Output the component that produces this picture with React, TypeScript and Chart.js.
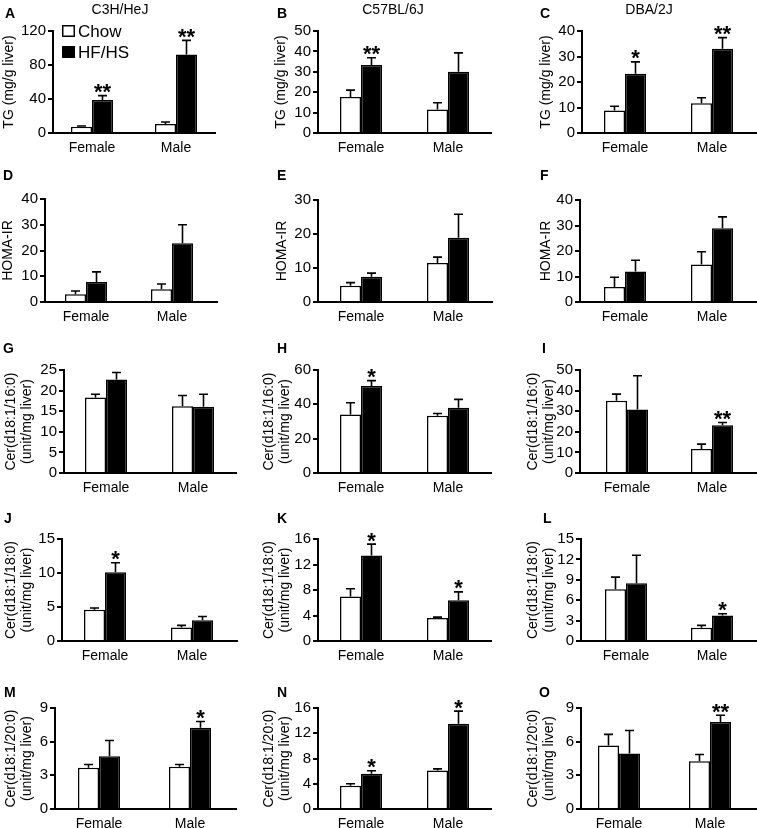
import React, { useEffect, useRef } from 'react';
import { Chart, registerables } from 'chart.js';

Chart.register(...registerables);

const FONT = '"Liberation Sans", Arial, Helvetica, sans-serif';

// ---------- data ----------
const categories = ['Female', 'Male'];
const groups = ['Chow', 'HF/HS'];
const strains = ['C3H/HeJ', 'C57BL/6J', 'DBA/2J'];

const tgTitle = ['TG (mg/g liver)'];
const homaTitle = ['HOMA-IR'];
const cer16Title = ['Cer(d18:1/16:0)', '(unit/mg liver)'];
const cer18Title = ['Cer(d18:1/18:0)', '(unit/mg liver)'];
const cer20Title = ['Cer(d18:1/20:0)', '(unit/mg liver)'];

// A  TG, C3H/HeJ
const A_chow = [7.5, 10.6];
const A_chowErr = [0.7, 2.4];
const A_hf = [38.8, 92.5];
const A_hfErr = [5.2, 16.5];
const A_stars = ['**', '**'];
const A_yTicks = [0, 40, 80, 120];
// B  TG, C57BL/6J
const B_chow = [17.7, 11.5];
const B_chowErr = [3.3, 3.3];
const B_hf = [33.3, 30.0];
const B_hfErr = [3.6, 9.3];
const B_stars = ['**', ''];
const B_yTicks = [0, 10, 20, 30, 40, 50];
// C  TG, DBA/2J
const C_chow = [8.8, 11.7];
const C_chowErr = [1.7, 2.1];
const C_hf = [23.2, 33.0];
const C_hfErr = [4.7, 4.4];
const C_stars = ['*', '**'];
const C_yTicks = [0, 10, 20, 30, 40];
// D  HOMA-IR, C3H/HeJ
const D_chow = [3.0, 5.0];
const D_chowErr = [1.3, 2.0];
const D_hf = [7.8, 22.8];
const D_hfErr = [3.9, 7.2];
const D_stars = ['', ''];
const D_yTicks = [0, 10, 20, 30, 40];
// E  HOMA-IR, C57BL/6J
const E_chow = [4.8, 11.5];
const E_chowErr = [0.9, 1.7];
const E_hf = [7.4, 18.9];
const E_hfErr = [1.1, 6.9];
const E_stars = ['', ''];
const E_yTicks = [0, 10, 20, 30];
// F  HOMA-IR, DBA/2J
const F_chow = [5.9, 14.7];
const F_chowErr = [3.8, 5.0];
const F_hf = [12.0, 28.9];
const F_hfErr = [4.4, 4.5];
const F_stars = ['', ''];
const F_yTicks = [0, 10, 20, 30, 40];
// G  Cer 16:0, C3H/HeJ
const G_chow = [18.3, 16.2];
const G_chowErr = [0.8, 2.6];
const G_hf = [22.7, 16.1];
const G_hfErr = [1.7, 3.0];
const G_stars = ['', ''];
const G_yTicks = [0, 5, 10, 15, 20, 25];
// H  Cer 16:0, C57BL/6J
const H_chow = [34.1, 33.3];
const H_chowErr = [6.8, 1.4];
const H_hf = [50.7, 38.0];
const H_hfErr = [3.1, 4.9];
const H_stars = ['*', ''];
const H_yTicks = [0, 20, 40, 60];
// I  Cer 16:0, DBA/2J
const I_chow = [35.1, 11.7];
const I_chowErr = [3.2, 2.3];
const I_hf = [30.8, 23.2];
const I_hfErr = [16.4, 1.3];
const I_stars = ['', '**'];
const I_yTicks = [0, 10, 20, 30, 40, 50];
// J  Cer 18:0, C3H/HeJ
const J_chow = [4.6, 2.0];
const J_chowErr = [0.25, 0.3];
const J_hf = [10.1, 3.05];
const J_hfErr = [1.4, 0.55];
const J_stars = ['*', ''];
const J_yTicks = [0, 5, 10, 15];
// K  Cer 18:0, C57BL/6J
const K_chow = [7.0, 3.6];
const K_chowErr = [1.2, 0.15];
const K_hf = [13.4, 6.4];
const K_hfErr = [1.8, 1.3];
const K_stars = ['*', '*'];
const K_yTicks = [0, 4, 8, 12, 16];
// L  Cer 18:0, DBA/2J
const L_chow = [7.6, 1.95];
const L_chowErr = [1.8, 0.35];
const L_hf = [8.5, 3.76];
const L_hfErr = [4.1, 0.24];
const L_stars = ['', '*'];
const L_yTicks = [0, 3, 6, 9, 12, 15];
// M  Cer 20:0, C3H/HeJ
const M_chow = [3.67, 3.76];
const M_chowErr = [0.3, 0.21];
const M_hf = [4.7, 7.25];
const M_hfErr = [1.4, 0.55];
const M_stars = ['', '*'];
const M_yTicks = [0, 3, 6, 9];
// N  Cer 20:0, C57BL/6J
const N_chow = [3.7, 6.1];
const N_chowErr = [0.3, 0.25];
const N_hf = [5.6, 13.5];
const N_hfErr = [0.45, 2.0];
const N_stars = ['*', '*'];
const N_yTicks = [0, 4, 8, 12, 16];
// O  Cer 20:0, DBA/2J
const O_chow = [5.65, 4.26];
const O_chowErr = [1.0, 0.6];
const O_hf = [4.94, 7.76];
const O_hfErr = [2.05, 0.6];
const O_stars = ['', '**'];
const O_yTicks = [0, 3, 6, 9];

// ---------- layout (page pixels) ----------
type Layout = { L: number; R: number; top: number; y0: number; c0: number; c1: number; tx: number; lx: number; ly: number };
type Spec = {
  letter: string; yTitle: string[]; chow: number[]; chowErr: number[]; hf: number[]; hfErr: number[];
  stars: string[]; yTicks: number[]; lay: Layout; legend?: boolean;
};

const specs: Spec[] = [
  { letter: 'A', yTitle: tgTitle, chow: A_chow, chowErr: A_chowErr, hf: A_hf, hfErr: A_hfErr, stars: A_stars, yTicks: A_yTicks, legend: true,
    lay: { L: 53, R: 215, top: 31, y0: 133, c0: 92, c1: 176, tx: 9, lx: 5, ly: 8 } },
  { letter: 'B', yTitle: tgTitle, chow: B_chow, chowErr: B_chowErr, hf: B_hf, hfErr: B_hfErr, stars: B_stars, yTicks: B_yTicks,
    lay: { L: 318, R: 491, top: 31, y0: 133, c0: 361, c1: 448, tx: 281, lx: 277, ly: 8 } },
  { letter: 'C', yTitle: tgTitle, chow: C_chow, chowErr: C_chowErr, hf: C_hf, hfErr: C_hfErr, stars: C_stars, yTicks: C_yTicks,
    lay: { L: 582, R: 756, top: 31, y0: 133, c0: 625, c1: 712, tx: 546, lx: 540, ly: 8 } },
  { letter: 'D', yTitle: homaTitle, chow: D_chow, chowErr: D_chowErr, hf: D_hf, hfErr: D_hfErr, stars: D_stars, yTicks: D_yTicks,
    lay: { L: 45, R: 217, top: 199, y0: 302, c0: 86, c1: 172, tx: 8, lx: 3, ly: 170 } },
  { letter: 'E', yTitle: homaTitle, chow: E_chow, chowErr: E_chowErr, hf: E_hf, hfErr: E_hfErr, stars: E_stars, yTicks: E_yTicks,
    lay: { L: 318, R: 492, top: 200, y0: 302, c0: 361, c1: 448, tx: 282, lx: 277, ly: 170 } },
  { letter: 'F', yTitle: homaTitle, chow: F_chow, chowErr: F_chowErr, hf: F_hf, hfErr: F_hfErr, stars: F_stars, yTicks: F_yTicks,
    lay: { L: 580, R: 756, top: 200, y0: 302, c0: 625, c1: 712, tx: 546, lx: 540, ly: 170 } },
  { letter: 'G', yTitle: cer16Title, chow: G_chow, chowErr: G_chowErr, hf: G_hf, hfErr: G_hfErr, stars: G_stars, yTicks: G_yTicks,
    lay: { L: 64, R: 236, top: 370, y0: 473, c0: 106, c1: 193, tx: 11, lx: 3, ly: 343 } },
  { letter: 'H', yTitle: cer16Title, chow: H_chow, chowErr: H_chowErr, hf: H_hf, hfErr: H_hfErr, stars: H_stars, yTicks: H_yTicks,
    lay: { L: 318, R: 491, top: 370, y0: 473, c0: 361, c1: 448, tx: 269, lx: 277, ly: 343 } },
  { letter: 'I', yTitle: cer16Title, chow: I_chow, chowErr: I_chowErr, hf: I_hf, hfErr: I_hfErr, stars: I_stars, yTicks: I_yTicks,
    lay: { L: 580, R: 756, top: 370, y0: 473, c0: 627, c1: 712, tx: 533, lx: 542, ly: 343 } },
  { letter: 'J', yTitle: cer18Title, chow: J_chow, chowErr: J_chowErr, hf: J_hf, hfErr: J_hfErr, stars: J_stars, yTicks: J_yTicks,
    lay: { L: 62, R: 237, top: 539, y0: 641, c0: 105, c1: 192, tx: 11, lx: 4, ly: 513 } },
  { letter: 'K', yTitle: cer18Title, chow: K_chow, chowErr: K_chowErr, hf: K_hf, hfErr: K_hfErr, stars: K_stars, yTicks: K_yTicks,
    lay: { L: 318, R: 491, top: 539, y0: 641, c0: 361, c1: 448, tx: 269, lx: 277, ly: 513 } },
  { letter: 'L', yTitle: cer18Title, chow: L_chow, chowErr: L_chowErr, hf: L_hf, hfErr: L_hfErr, stars: L_stars, yTicks: L_yTicks,
    lay: { L: 581, R: 756, top: 539, y0: 641, c0: 626, c1: 712, tx: 533, lx: 543, ly: 513 } },
  { letter: 'M', yTitle: cer20Title, chow: M_chow, chowErr: M_chowErr, hf: M_hf, hfErr: M_hfErr, stars: M_stars, yTicks: M_yTicks,
    lay: { L: 55, R: 236, top: 708, y0: 809, c0: 99, c1: 190, tx: 11, lx: 4, ly: 687 } },
  { letter: 'N', yTitle: cer20Title, chow: N_chow, chowErr: N_chowErr, hf: N_hf, hfErr: N_hfErr, stars: N_stars, yTicks: N_yTicks,
    lay: { L: 318, R: 491, top: 708, y0: 809, c0: 361, c1: 448, tx: 269, lx: 277, ly: 687 } },
  { letter: 'O', yTitle: cer20Title, chow: O_chow, chowErr: O_chowErr, hf: O_hf, hfErr: O_hfErr, stars: O_stars, yTicks: O_yTicks,
    lay: { L: 581, R: 756, top: 708, y0: 809, c0: 619, c1: 710, tx: 533, lx: 539, ly: 687 } },
];

const strainTitlePos = [
  { x: 120, y: 4 },
  { x: 393, y: 4 },
  { x: 649, y: 4 },
];

const PAD_TOP = 26;
const X_H = 24;
const TITLE_LH = 16;
const BAR_W = 21;
const STAR_FS = 22;

function Panel({ spec }: { spec: Spec }) {
  const ref = useRef<HTMLCanvasElement>(null);
  const lay = spec.lay;
  const originX = lay.tx - TITLE_LH / 2;
  const cLeft = Math.floor(originX);
  const padLeft = originX - cLeft;
  const cTop = lay.top - PAD_TOP;
  const width = lay.R + 1 - cLeft;
  const height = PAD_TOP + (lay.y0 - lay.top) + X_H;

  useEffect(() => {
    const s = lay.c1 - lay.c0;
    const yW = lay.L - originX;
    const yMax = spec.yTicks[spec.yTicks.length - 1];
    const step = spec.yTicks[1] - spec.yTicks[0];
    const means = [spec.chow, spec.hf];
    const errs = [spec.chowErr, spec.hfErr];

    const errorPlugin = {
      id: 'errorBars',
      afterDatasetsDraw(chart: any) {
        const ctx = chart.ctx;
        const ys = chart.scales.y;
        ctx.save();
        ctx.strokeStyle = '#000';
        ctx.fillStyle = '#000';
        ctx.lineWidth = 1.6;
        for (let d = 0; d < 2; d++) {
          const meta = chart.getDatasetMeta(d);
          meta.data.forEach((bar: any, i: number) => {
            const x = bar.x;
            const yMean = ys.getPixelForValue(means[d][i]);
            const yTop = ys.getPixelForValue(means[d][i] + errs[d][i]);
            ctx.beginPath();
            ctx.moveTo(x, yMean);
            ctx.lineTo(x, yTop);
            ctx.moveTo(x - 4.5, yTop);
            ctx.lineTo(x + 4.5, yTop);
            ctx.stroke();
            if (d === 1 && spec.stars[i]) {
              ctx.font = `bold ${STAR_FS}px ${FONT}`;
              ctx.textAlign = 'center';
              ctx.textBaseline = 'alphabetic';
              ctx.fillText(spec.stars[i], x, yTop - 6 + 0.43 * STAR_FS);
            }
          });
        }
        ctx.restore();
      },
    };

    const legendPlugin = {
      id: 'boxLegend',
      afterDraw(chart: any) {
        if (!spec.legend) return;
        const ctx = chart.ctx;
        ctx.save();
        const items = chart.data.datasets;
        const rows = [25, 46];
        items.forEach((ds: any, k: number) => {
          const x = 62 - cLeft;
          const y = rows[k] - cTop;
          ctx.fillStyle = ds.backgroundColor;
          ctx.fillRect(x, y, 13, 12);
          ctx.strokeStyle = '#000';
          ctx.lineWidth = 1.5;
          ctx.strokeRect(x + 0.75, y + 0.75, 11.5, 10.5);
          ctx.fillStyle = '#000';
          ctx.font = `17px ${FONT}`;
          ctx.textAlign = 'left';
          ctx.textBaseline = 'middle';
          ctx.fillText(ds.label, x + 16, y + 7);
        });
        ctx.restore();
      },
    };

    const chart = new Chart(ref.current as HTMLCanvasElement, {
      type: 'bar',
      data: {
        datasets: [
          {
            label: groups[0],
            data: spec.chow.map((v, i) => ({ x: i, y: v })),
            backgroundColor: '#ffffff',
            borderColor: '#000000',
            borderWidth: 1.5,
          },
          {
            label: groups[1],
            data: spec.hf.map((v, i) => ({ x: i, y: v })),
            backgroundColor: '#000000',
            borderColor: '#000000',
            borderWidth: 1.5,
          },
        ],
      } as any,
      options: {
        responsive: false,
        animation: false,
        events: [],
        devicePixelRatio: 1,
        layout: { padding: { left: padLeft, top: PAD_TOP, right: 1, bottom: 0 } },
        datasets: { bar: { categoryPercentage: (2 * BAR_W) / s, barPercentage: 1, grouped: true } },
        plugins: { legend: { display: false }, tooltip: { enabled: false } },
        scales: {
          x: {
            type: 'linear',
            offset: false,
            min: -(lay.c0 - lay.L) / s,
            max: 1 + (lay.R - lay.c1) / s,
            afterBuildTicks: (sc: any) => {
              sc.ticks = categories.map((_, i) => ({ value: i }));
            },
            afterFit: (sc: any) => {
              sc.height = X_H;
            },
            grid: { display: false },
            border: { display: true, color: '#000', width: 2 },
            ticks: {
              callback: (_v: any, i: number) => categories[i],
              font: { family: FONT, size: 14 },
              color: '#000',
              padding: -1,
              maxRotation: 0,
              autoSkip: false,
            },
          },
          y: {
            type: 'linear',
            min: 0,
            max: yMax,
            afterFit: (sc: any) => {
              sc.width = yW;
            },
            ticks: {
              stepSize: step,
              autoSkip: false,
              font: { family: FONT, size: 15 },
              color: '#000',
              padding: 2,
            },
            grid: {
              display: true,
              drawOnChartArea: false,
              drawTicks: true,
              tickLength: 5,
              lineWidth: 2,
              color: '#000',
            },
            border: { display: true, color: '#000', width: 2 },
            title: {
              display: true,
              text: spec.yTitle,
              font: { family: FONT, size: 14, lineHeight: TITLE_LH / 14 },
              color: '#000',
              padding: 0,
            },
          },
        },
      } as any,
      plugins: [errorPlugin, legendPlugin],
    });
    return () => chart.destroy();
  }, []);

  return (
    <>
      <canvas
        ref={ref}
        width={width}
        height={height}
        style={{ position: 'absolute', left: cLeft, top: cTop, width, height }}
      />
      <div
        style={{
          position: 'absolute',
          left: lay.lx,
          top: lay.ly - 2,
          font: `bold 14px ${FONT}`,
          lineHeight: '14px',
          color: '#000',
        }}
      >
        {spec.letter}
      </div>
    </>
  );
}

export default function App() {
  return (
    <div
      style={{
        position: 'absolute',
        left: 0,
        top: 0,
        width: 757,
        height: 828,
        overflow: 'hidden',
        background: '#fff',
      }}
    >
      {specs.map((sp) => (
        <Panel key={sp.letter} spec={sp} />
      ))}
      {strains.map((st, i) => (
        <div
          key={st}
          style={{
            position: 'absolute',
            left: strainTitlePos[i].x - 60,
            width: 120,
            textAlign: 'center',
            top: strainTitlePos[i].y - 2,
            font: `14px ${FONT}`,
            lineHeight: '14px',
            color: '#000',
          }}
        >
          {st}
        </div>
      ))}
    </div>
  );
}
